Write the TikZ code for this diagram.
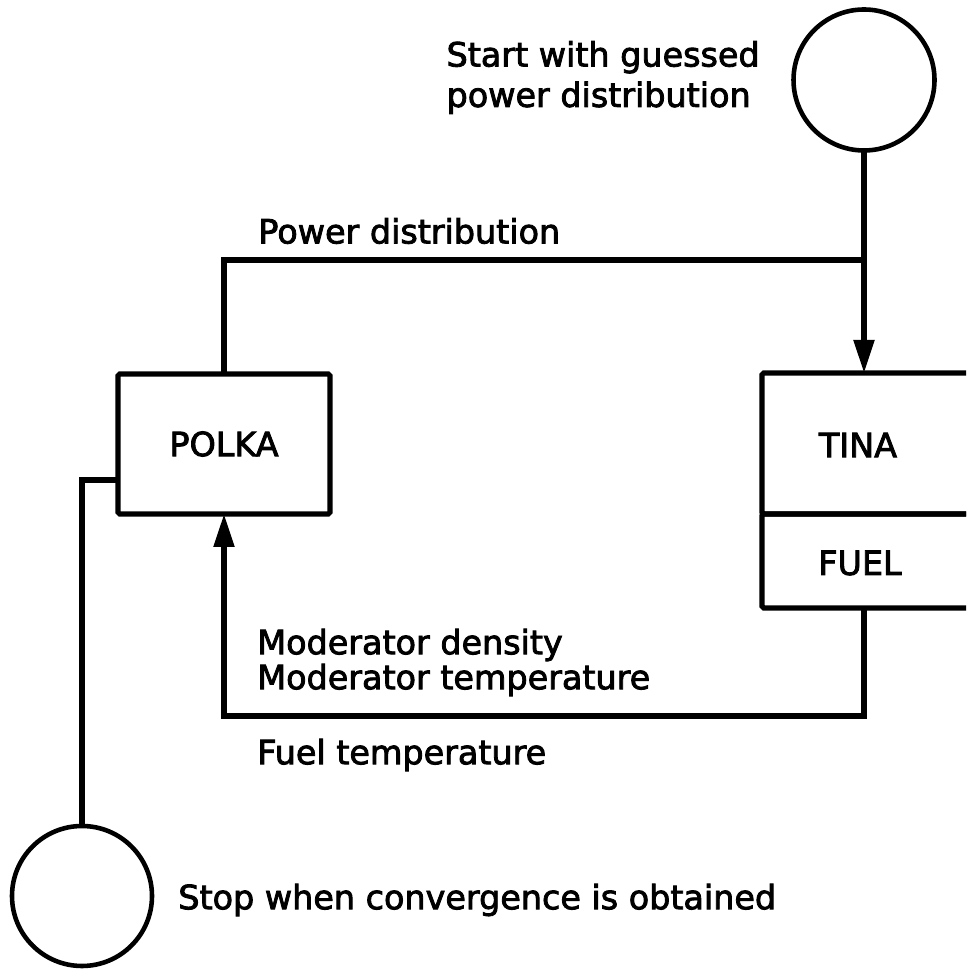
\documentclass[tikz,border=0pt]{standalone}
\usepackage{fontspec}
\setmainfont[FakeBold=2.5]{DejaVu Sans}
\usetikzlibrary{arrows.meta}
\tikzset{
progbox/.style={draw, line width=3pt, rounded corners=1pt, inner sep=0pt, outer sep=0pt},
endcircle/.style={draw, circle, line width=2.6pt, minimum size=2.82cm, inner sep=0pt, outer sep=0pt},
lbl/.style={inner sep=0pt, font=\fontsize{19}{23}\selectfont},
flow/.style={line width=3pt},
tip/.style={-{Triangle[length=0.66cm, width=0.4cm]}}
}
\begin{document}
\begin{tikzpicture}
\useasboundingbox (0,0) rectangle (19.32,19.38);
\clip (0,0) rectangle (19.32,19.38);
% start and stop
\node[endcircle] (start) at (17.28,17.78) {};
\node[lbl, anchor=east, align=left] (startlbl) at (15.2,17.83) {Start with guessed\\power distribution};
\node[endcircle, minimum size=2.8cm] (stop) at (1.64,1.46) {};
\node[lbl, anchor=west] (stoplbl) at (3.56,1.38) {Stop when convergence is obtained};
% programs
\node[progbox, minimum width=4.24cm, minimum height=2.8cm] (polka) at (4.48,10.5) {};
\node[lbl] (polkalbl) at (polka.center) {POLKA};
\node[progbox, anchor=north west, minimum width=6cm, minimum height=2.82cm] (tina) at (15.24,11.92) {};
\node[progbox, anchor=north west, minimum width=6cm, minimum height=1.88cm] (fuel) at (tina.south west) {};
\node[lbl] (tinalbl) at (17.16,10.48) {TINA};
\node[lbl] (fuellbl) at (17.2,8.12) {FUEL};
% connectors
\coordinate (pwr) at (17.28,14.18);
\coordinate (ret) at (17.28,5.06);
\draw[flow, tip] (start.south) -- (start.south |- tina.north);
\draw[flow] (polka.north) |- (pwr);
\draw[flow, tip] (start |- fuel.south) -- (ret) -| (polka.south);
\draw[flow] ([yshift=-0.72cm]polka.west) -| (stop.north);
% data labels
\node[lbl, anchor=west] (pwrlbl) at (5.16,14.76) {Power distribution};
\node[lbl, anchor=west] (denslbl) at (5.14,6.48) {Moderator density};
\node[lbl, anchor=west] (modtlbl) at (5.14,5.78) {Moderator temperature};
\node[lbl, anchor=west] (fueltlbl) at (5.14,4.28) {Fuel temperature};
\end{tikzpicture}
\end{document}
